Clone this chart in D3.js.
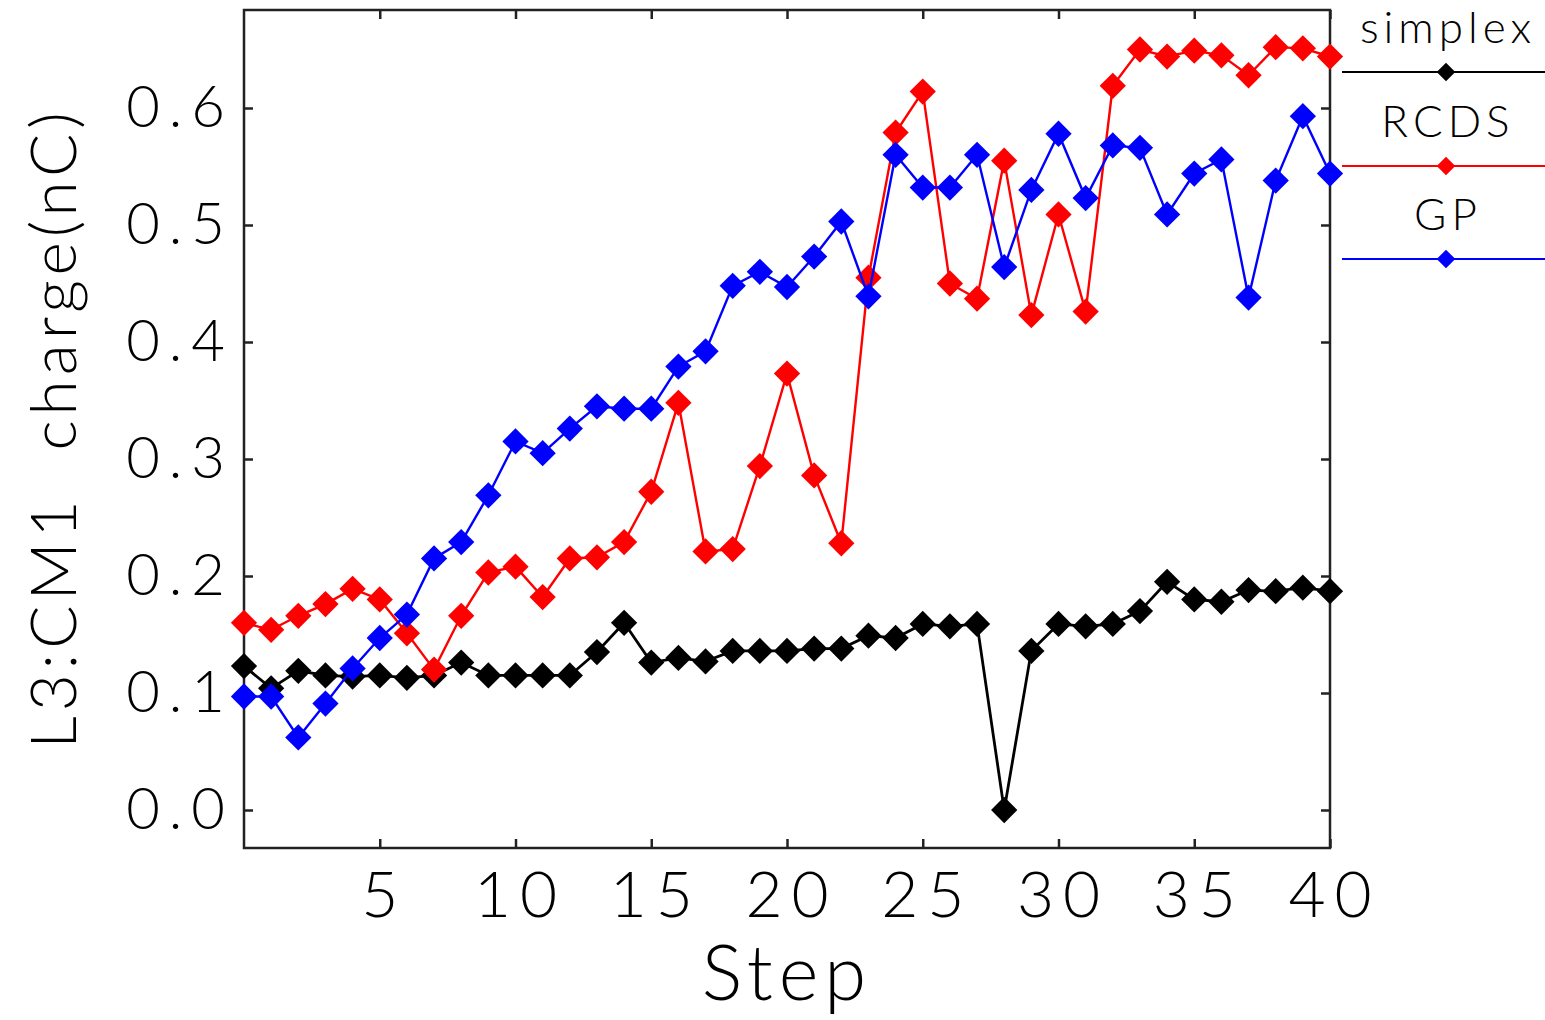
<!DOCTYPE html>
<html>
<head>
<meta charset="utf-8">
<script src="https://cdn.jsdelivr.net/npm/d3@7"></script>
<style>
  body { margin: 0; background: #fff; }
  text { font-family: Lato, "DejaVu Sans", sans-serif; font-weight: 300; fill: #000; }
</style>
</head>
<body>
<svg id="chart" width="1545" height="1020"></svg>
<script>
// Data
var steps = d3.range(0, 41);
var simplex = [0.123, 0.104, 0.119, 0.115, 0.114, 0.115, 0.113, 0.115, 0.126, 0.115,
               0.115, 0.115, 0.115, 0.135, 0.160, 0.126, 0.130, 0.127, 0.136, 0.136,
               0.136, 0.138, 0.138, 0.149, 0.147, 0.159, 0.157, 0.159, 0.000, 0.136,
               0.159, 0.157, 0.159, 0.170, 0.195, 0.180, 0.178, 0.188, 0.187, 0.190, 0.187];
var rcds = [0.160, 0.154, 0.166, 0.176, 0.189, 0.180, 0.151, 0.120, 0.166, 0.203,
            0.208, 0.182, 0.215, 0.216, 0.229, 0.272, 0.348, 0.221, 0.223, 0.294,
            0.373, 0.286, 0.228, 0.455, 0.579, 0.614, 0.450, 0.437, 0.555, 0.423,
            0.509, 0.426, 0.619, 0.650, 0.644, 0.649, 0.645, 0.628, 0.652, 0.651, 0.644];
var gp = [0.097, 0.097, 0.062, 0.091, 0.121, 0.147, 0.167, 0.215, 0.229, 0.269,
          0.315, 0.305, 0.326, 0.345, 0.343, 0.343, 0.379, 0.392, 0.448, 0.460,
          0.447, 0.473, 0.503, 0.439, 0.560, 0.532, 0.532, 0.560, 0.464, 0.530,
          0.578, 0.523, 0.568, 0.566, 0.509, 0.544, 0.556, 0.438, 0.538, 0.593, 0.544];
var seriesNames = ["simplex", "RCDS", "GP"];
var seriesColors = ["#000000", "#ff0000", "#0000ff"];
var xTicks = [5, 10, 15, 20, 25, 30, 35, 40];
var yTicks = [0.0, 0.1, 0.2, 0.3, 0.4, 0.5, 0.6];

// Layout (note: "top" is reserved on window, so use plot* names)
var svg = d3.select("#chart");
var plotL = 244, plotR = 1330, plotT = 10, plotB = 848;

var x = d3.scaleLinear().domain([0, 40]).range([plotL, plotR]);
var y = d3.scaleLinear().domain([0, 0.6]).range([810, 108]);

// Frame
svg.append("rect")
    .attr("x", plotL).attr("y", plotT)
    .attr("width", plotR - plotL).attr("height", plotB - plotT)
    .attr("fill", "none").attr("stroke", "#222").attr("stroke-width", 2.5);

// Axes (ticks pointing inward)
var xAxis = svg.append("g").attr("transform", "translate(0," + plotB + ")")
    .call(d3.axisBottom(x).tickValues(xTicks).tickSize(-9).tickPadding(24).tickFormat(d3.format("d")));
var xTop = svg.append("g").attr("transform", "translate(0," + plotT + ")")
    .call(d3.axisTop(x).tickValues(xTicks).tickSize(-9).tickFormat(""));
var yAxis = svg.append("g").attr("transform", "translate(" + plotL + ",0)")
    .call(d3.axisLeft(y).tickValues(yTicks).tickSize(-9).tickPadding(10).tickFormat(d3.format(".1f")));
var yRight = svg.append("g").attr("transform", "translate(" + plotR + ",0)")
    .call(d3.axisRight(y).tickValues(yTicks).tickSize(-9).tickFormat(""));

[xAxis, xTop, yAxis, yRight].forEach(function(g) {
    g.select(".domain").remove();
    g.selectAll(".tick line").attr("stroke", "#222").attr("stroke-width", 2.5);
});
xAxis.selectAll("text")
    .attr("font-size", 64).attr("letter-spacing", 9)
    .attr("dx", 4).attr("dy", "0.71em").attr("fill", "#000");
yAxis.selectAll("text")
    .attr("font-size", 58).attr("letter-spacing", 9)
    .attr("fill", "#000");

// Axis titles
svg.append("text").text("Step")
    .attr("x", 787).attr("y", 1000)
    .attr("text-anchor", "middle")
    .attr("font-size", 76).attr("letter-spacing", 6);
svg.append("text").text("L3:CM1  charge(nC)")
    .attr("transform", "translate(76,428) rotate(-90)")
    .attr("text-anchor", "middle")
    .attr("font-size", 64).attr("letter-spacing", 5)
    .style("white-space", "pre");

// Series
var allSeries = [simplex, rcds, gp];
var diamond = d3.symbol().type(d3.symbolDiamond2).size(440);
var line = d3.line().x(function(d, i) { return x(steps[i]); }).y(function(d) { return y(d); });

allSeries.forEach(function(vals, k) {
    var g = svg.append("g");
    g.append("path").datum(vals)
        .attr("d", line)
        .attr("fill", "none")
        .attr("stroke", seriesColors[k])
        .attr("stroke-width", k == 0 ? 2.8 : 2.4);
    g.selectAll("path.pt").data(vals).enter().append("path")
        .attr("class", "pt")
        .attr("d", diamond)
        .attr("transform", function(d, i) { return "translate(" + x(steps[i]) + "," + y(d) + ")"; })
        .attr("fill", seriesColors[k]);
});

// Legend
var legY = [72, 166, 259];
seriesNames.forEach(function(name, k) {
    svg.append("text").text(name)
        .attr("x", 1448).attr("y", legY[k] - 29)
        .attr("text-anchor", "middle")
        .attr("font-size", 44).attr("letter-spacing", 5);
    svg.append("line")
        .attr("x1", 1342).attr("x2", 1545)
        .attr("y1", legY[k]).attr("y2", legY[k])
        .attr("stroke", seriesColors[k]).attr("stroke-width", 2.2);
    svg.append("path")
        .attr("d", d3.symbol().type(d3.symbolDiamond2).size(220))
        .attr("transform", "translate(1446," + legY[k] + ")")
        .attr("fill", seriesColors[k]);
});
</script>
</body>
</html>
